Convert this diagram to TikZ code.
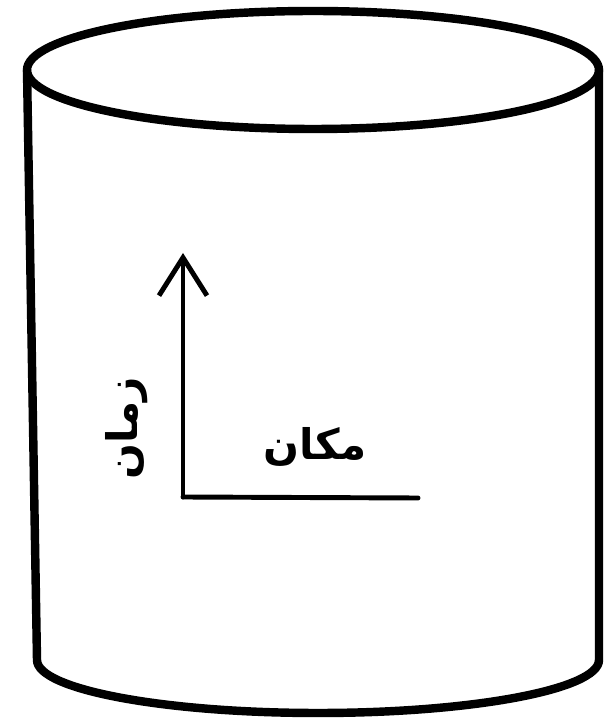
\documentclass[tikz,border=0pt]{standalone}
\usepackage{fontspec}
\usetikzlibrary{positioning, arrows.meta}
\newfontfamily\arabicfont[Script=Arabic]{DejaVu Sans}
\TeXXeTstate=1

\tikzset{
  outline/.style={line width=6pt, line cap=round, line join=round},
  axis/.style={line width=3.5pt, line cap=round},
  axislabel/.style={inner sep=0pt, font=\arabicfont\bfseries\fontsize{30}{30}\selectfont}
}

\begin{document}
\begin{tikzpicture}
    \useasboundingbox (0,0) rectangle (15.1,17.975);

    % cylinder
    \draw[outline] (7.825,16.225) ellipse (7.15 and 1.475);
    \draw[outline] (0.675,16.225) -- (0.925,1.475)
        arc (180:360:7.025 and 1.325) -- (14.975,16.225);

    % axes
    \coordinate (origin) at (4.575,5.55);
    \coordinate (timeend) at (4.575,11.65);
    \coordinate (spaceend) at (10.45,5.525);
    \draw[axis, -{Straight Barb[length=0.95cm, width=1.2cm]}] (origin) -- (timeend);
    \draw[axis] (origin) -- (spaceend);

    \node[axislabel] (space) at (7.875,6.8) {\beginR مکان\endR};
    \node[axislabel, rotate=90] (time) at (3.175,7.275) {\beginR زمان\endR};
\end{tikzpicture}
\end{document}
